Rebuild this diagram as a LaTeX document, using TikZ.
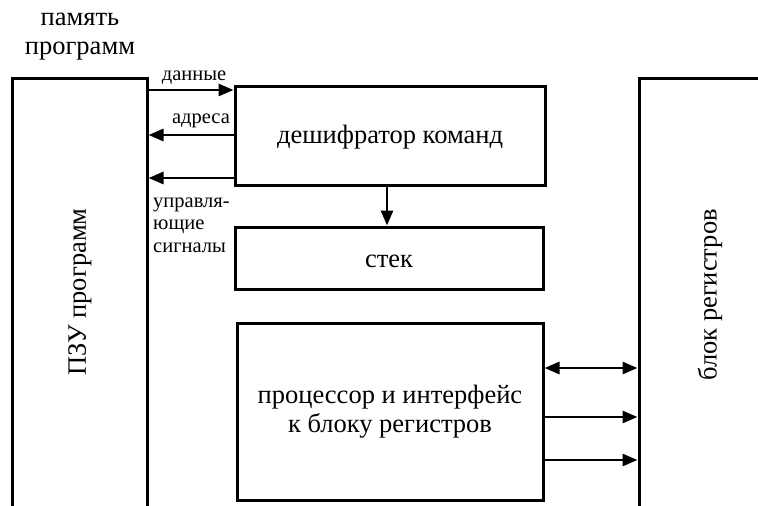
\documentclass[tikz,border=0pt]{standalone}
\usepackage{fontspec}
\setmainfont{Liberation Serif}
\usetikzlibrary{positioning, arrows.meta}

\begin{document}
\begin{tikzpicture}[x=1pt, y=-1pt, >={Triangle[length=15pt, width=12pt]},
  blockbox/.style={draw, line width=3pt, inner sep=0pt},
  bigtext/.style={font=\fontsize{26.5}{29}\selectfont, inner sep=0pt},
  smalltext/.style={font=\fontsize{20.5}{22.5}\selectfont, inner sep=0pt},
  link/.style={line width=2.8pt}]

% --- Frame (image is 758 x 506) ---
\useasboundingbox (0, 0) rectangle (758, 506);
\clip (0, 0) rectangle (758, 506);

% --- Blocks ---
\node[blockbox, minimum width=135, minimum height=450] (pzu) at (79.5, 303) {};
\node[blockbox, minimum width=150, minimum height=450] (regs) at (714, 303) {};
\node[blockbox, minimum width=310, minimum height=99] (dec) at (390, 135.5)
  {};
\node[blockbox, minimum width=308, minimum height=62] (stack) at (389, 258)
  {};
\node[blockbox, minimum width=306, minimum height=177] (cpu) at (390, 411.5)
  {};

% --- Block texts ---
\node[bigtext, align=center] (title) at (80, 37) {память\\программ};
\node[bigtext, rotate=90] (pzutext) at (80, 292) {ПЗУ программ};
\node[bigtext, rotate=90] (regstext) at (710, 295) {блок регистров};
\node[bigtext] (dectext) at (390, 137) {дешифратор команд};
\node[bigtext] (stacktext) at (389, 261) {стек};
\node[bigtext, align=center] (cputext) at (390, 412)
  {процессор и интерфейс\\к блоку регистров};

% --- Signal labels ---
\node[smalltext] (datatext) at (194, 78) {данные};
\node[smalltext] (addrtext) at (201, 121) {адреса};
\node[smalltext, align=left, anchor=west] (ctrltext) at (153, 225)
  {управля-\\ющие\\сигналы};

% --- Bus lines between blocks ---
\draw[link, ->] (pzu.east |- 0,90) -- (dec.west |- 0,90);
\draw[link, ->] (dec.west |- 0,135) -- (pzu.east |- 0,135);
\draw[link, ->] (dec.west |- 0,178) -- (pzu.east |- 0,178);
\draw[link, ->] (dec.south -| 387,0) -- (stack.north -| 387,0);
\draw[link, <->] (cpu.east |- 0,368) -- (regs.west |- 0,368);
\draw[link, ->] (cpu.east |- 0,417) -- (regs.west |- 0,417);
\draw[link, ->] (cpu.east |- 0,460) -- (regs.west |- 0,460);

\end{tikzpicture}
\end{document}
